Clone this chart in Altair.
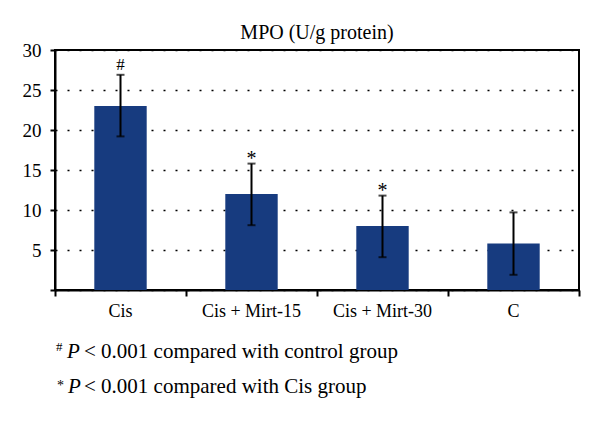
import altair as alt
import pandas as pd

groups = ["Cis", "Cis + Mirt-15", "Cis + Mirt-30", "C"]
mpo_mean = [23.0, 12.0, 8.0, 5.8]
err_low = [19.2, 8.1, 4.1, 1.9]
err_high = [26.9, 15.8, 11.8, 9.7]
sig_marks = ["#", "*", "*", ""]
y_ticks = [0, 5, 10, 15, 20, 25, 30]
title_text = "MPO (U/g protein)"
footnote_marks = ["#", "*"]
footnote_texts = ["< 0.001 compared with control group", "< 0.001 compared with Cis group"]

df = pd.DataFrame({"group": groups, "mean": mpo_mean, "lo": err_low,
                   "hi": err_high, "sig": sig_marks})

FONT = "Liberation Serif"
BLUE = "#173B7F"
W, H = 524, 240
x_scale = alt.Scale(paddingInner=0, paddingOuter=0)
y_scale = alt.Scale(domain=[0, 30], nice=False)

x_axis = alt.Axis(orient="bottom", bandPosition=1, tickExtra=True,
                  tickSize=6, tickColor="black", tickWidth=2,
                  labelAngle=0, labelFont=FONT,
                  labelFontSize=18, labelColor="black", labelPadding=6,
                  domainColor="black", domainWidth=2, grid=False)
y_axis = alt.Axis(values=y_ticks, labelExpr="datum.value == 0 ? '' : datum.label",
                  labelFont=FONT, labelFontSize=19, labelColor="black",
                  labelPadding=9, tickSize=5, tickColor="black", tickWidth=2,
                  domainColor="black", domainWidth=2,
                  grid=True, gridDash=[2, 10], gridColor="black",
                  gridWidth=1.5, gridOpacity=1)


def xs():
    return alt.X("group:N", sort=groups, scale=x_scale, title=None, axis=x_axis)


def ys(field):
    return alt.Y(field, scale=y_scale, title=None, axis=y_axis)


base = alt.Chart(df)

bars = base.mark_bar(color=BLUE, width=alt.RelativeBandSize(0.4)).encode(
    x=xs(), y=ys("mean:Q"))

err_line = base.mark_rule(color="black", strokeWidth=2).encode(
    x=xs(), y=ys("lo:Q"), y2="hi:Q")
cap_hi = base.mark_tick(color="black", size=8, thickness=2).encode(
    x=xs(), y=ys("hi:Q"))
cap_lo = base.mark_tick(color="black", size=8, thickness=2).encode(
    x=xs(), y=ys("lo:Q"))

sig_hash = base.transform_filter("datum.sig == '#'").mark_text(
    font=FONT, fontSize=17, baseline="alphabetic", dy=-5, color="black").encode(
    x=xs(), y=ys("hi:Q"), text="sig:N")
sig_star = base.transform_filter("datum.sig == '*'").mark_text(
    font=FONT, fontSize=20, baseline="alphabetic", dy=1, color="black").encode(
    x=xs(), y=ys("hi:Q"), text="sig:N")


def note(txt, x, y, size, style="normal"):
    return alt.Chart(pd.DataFrame({"t": [txt]})).mark_text(
        font=FONT, fontSize=size, fontStyle=style, align="left",
        baseline="alphabetic", color="black").encode(
        x=alt.value(x), y=alt.value(y), text="t:N")


notes = [
    note(footnote_marks[0], 1, 301, 13),
    note("P", 12, 308, 21, "italic"),
    note(footnote_texts[0], 29, 308, 21),
    note(footnote_marks[1], 2, 340, 14),
    note("P", 13, 343, 21, "italic"),
    note(footnote_texts[1], 29, 343, 21),
]

chart = alt.layer(bars, err_line, cap_hi, cap_lo,
                  sig_hash, sig_star, *notes).properties(
    width=W, height=H,
    title=alt.TitleParams(title_text, font=FONT, fontSize=20, fontWeight="normal",
                          color="black", anchor="middle", offset=-2),
    padding={"left": 47, "top": 42, "right": 10, "bottom": 120},
    autosize=alt.AutoSizeParams(type="none"),
).configure_view(stroke="black", strokeWidth=2).configure_axis(
    labelFont=FONT, labelColor="black")

chart.save("out.html", embed_options={"renderer": "svg", "actions": False})
